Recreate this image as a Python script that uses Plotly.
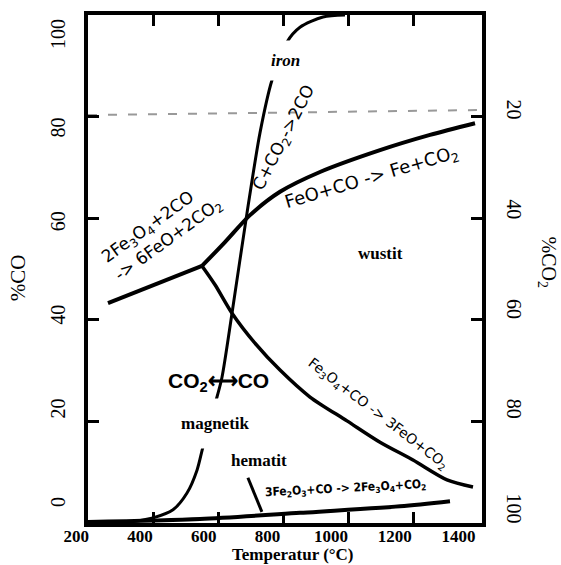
import plotly.graph_objects as go

# ---------------- data (temperature in °C, gas composition in %CO) ----------------
# FeO + CO -> Fe + CO2 boundary (from triple point up to the right)
feo_fe_T = [550.8, 621.5, 698.5, 790.8, 913.8, 1098.5, 1252.3, 1390.8]
feo_fe_CO = [50.6, 55.3, 60.6, 65.2, 69.1, 73.4, 76.4, 78.7]

# Fe3O4 -> Fe boundary (low temperature branch, left of triple point)
mag_fe_T = [261.5, 550.8]
mag_fe_CO = [43.3, 50.6]

# Fe3O4 + CO -> 3FeO + CO2 boundary
mag_wus_T = [550.8, 590.8, 643.1, 713.8, 790.8, 883.1, 996.9, 1098.5, 1200.0, 1304.6, 1384.6]
mag_wus_CO = [50.6, 46.9, 41.3, 35.4, 30.1, 24.8, 20.1, 15.9, 12.4, 8.5, 7.1]

# Boudouard equilibrium C + CO2 -> 2CO
boud_T = [329, 400, 461.5, 504.6, 535.4, 553.8, 596.9, 612.3, 643.1, 689.2, 729.2, 766.2, 812.3, 852.3, 923.0, 990.8]
boud_CO = [0.2, 1.0, 2.6, 5.9, 10.4, 15.0, 24.8, 28.7, 41.3, 61.0, 76.8, 87.2, 94.7, 97.6, 99.6, 100.0]

# 3Fe2O3 + CO -> 2Fe3O4 + CO2 boundary
hem_T = [200, 544.6, 852.3, 1160.0, 1313.8]
hem_CO = [0.2, 0.8, 2.0, 3.3, 4.3]

# short remnant segment near "hematit"
seg_T = [692, 735]
seg_CO = [8.9, 2.2]

# dashed reference line
dash_T = [200, 1412]
dash_CO = [80.3, 81.3]

# axis ticks / labels
x_tick_marks = [400, 600, 800, 1000, 1200]
x_tick_labels = [200, 400, 600, 800, 1000, 1200, 1400]
y_tick_marks = [20, 40, 60, 80]
y_left_labels = [0, 20, 40, 60, 80, 100]
y_right_labels = [20, 40, 60, 80, 100]

T_RANGE = [200, 1412.3]
CO_RANGE = [0, 100]

fig = go.Figure()


def add_line(x, y, width=4.0, color="black", dash=None, shape="spline"):
    fig.add_trace(go.Scatter(x=x, y=y, mode="lines",
                             line=dict(color=color, width=width, dash=dash, shape=shape, smoothing=0.8),
                             hoverinfo="skip", showlegend=False))


add_line(dash_T, dash_CO, width=2, color="#999999", dash="9px,11px", shape="linear")
add_line(hem_T, hem_CO, width=4)
add_line(seg_T, seg_CO, width=3, shape="linear")
add_line(mag_fe_T, mag_fe_CO, width=4, shape="linear")
add_line(feo_fe_T, feo_fe_CO, width=4)
add_line(mag_wus_T, mag_wus_CO, width=3.5)
add_line(boud_T, boud_CO, width=3)

# invisible helper traces so that the label-only axes are drawn
fig.add_trace(go.Scatter(x=[800], y=[50], xaxis="x2", yaxis="y", mode="markers",
                         marker=dict(opacity=0), hoverinfo="skip", showlegend=False))
fig.add_trace(go.Scatter(x=[800], y=[50], xaxis="x", yaxis="y3", mode="markers",
                         marker=dict(opacity=0), hoverinfo="skip", showlegend=False))
fig.add_trace(go.Scatter(x=[800], y=[50], xaxis="x", yaxis="y4", mode="markers",
                         marker=dict(opacity=0), hoverinfo="skip", showlegend=False))

serif = "Liberation Serif, Times New Roman, serif"
sans = "DejaVu Sans, sans-serif"

fig.update_layout(
    width=561, height=565,
    margin=dict(l=66, r=79, t=15, b=42),
    paper_bgcolor="white", plot_bgcolor="rgba(0,0,0,0)",
    xaxis=dict(domain=[22 / 416, 1], range=T_RANGE, showgrid=False, zeroline=False,
               showline=True, linewidth=4, linecolor="black", mirror="ticks",
               ticks="inside", ticklen=11, tickwidth=3, tickcolor="black",
               tickvals=x_tick_marks, showticklabels=False),
    xaxis2=dict(domain=[0, 1], range=[167.5, 1474], anchor="free", position=0,
                showgrid=False, zeroline=False, showline=False, ticks="",
                tickvals=x_tick_labels, ticktext=[str(v) for v in x_tick_labels],
                ticklabelstandoff=1,
                tickfont=dict(family=serif, size=17, color="black", weight="bold")),
    yaxis=dict(domain=[0, 1], range=CO_RANGE, showgrid=False, zeroline=False,
               showline=True, linewidth=4, linecolor="black", mirror="ticks",
               ticks="inside", ticklen=11, tickwidth=3, tickcolor="black",
               tickvals=y_tick_marks, showticklabels=False),
    yaxis3=dict(overlaying="y", side="left", anchor="x", range=[-3.85, 104.7],
                showgrid=False, zeroline=False, showline=False, ticks="",
                tickvals=y_left_labels, ticktext=[str(v) for v in y_left_labels],
                tickangle=-90, ticklabelstandoff=18,
                tickfont=dict(family=serif, size=20, color="black")),
    yaxis4=dict(overlaying="y", side="right", anchor="x", range=[102.3, 0.48],
                showgrid=False, zeroline=False, showline=False, ticks="",
                tickvals=y_right_labels, ticktext=[str(v) for v in y_right_labels],
                tickangle=90, ticklabelstandoff=20,
                tickfont=dict(family=serif, size=20, color="black")),
)

ann = []
# axis titles
ann.append(dict(xref="paper", yref="paper", x=-0.115, y=0.482, xanchor="center", yanchor="middle",
                text="%CO", textangle=-90,
                showarrow=False, font=dict(family=serif, size=21, color="black")))
ann.append(dict(xref="paper", yref="paper", x=1.157, y=0.514, xanchor="center", yanchor="middle",
                text="%CO<sub>2</sub>", textangle=90,
                showarrow=False, font=dict(family=serif, size=20, color="black")))
ann.append(dict(xref="paper", yref="paper", x=0.546, y=-0.062, xanchor="center", yanchor="middle",
                text="Temperatur (°C)",
                showarrow=False, font=dict(family=serif, size=17, color="black", weight="bold")))

# reaction labels
ann.append(dict(x=427.7, y=57.3, text="2Fe<sub>3</sub>O<sub>4</sub>+2CO<br>-> 6FeO+2CO<sub>2</sub>",
                textangle=-36, align="left", showarrow=False,
                font=dict(family=sans, size=17, color="black")))
ann.append(dict(x=806, y=75.8, text="C+CO<sub>2</sub>->2CO", textangle=-63, showarrow=False,
                font=dict(family=sans, size=17, color="black")))
ann.append(dict(x=1073.8, y=67.9, text="FeO+CO -> Fe+CO<sub>2</sub>", textangle=-16.5, showarrow=False,
                font=dict(family=sans, size=18, color="black")))
ann.append(dict(x=1092.3, y=21.5, text="Fe<sub>3</sub>O<sub>4</sub>+CO -> 3FeO+CO<sub>2</sub>",
                textangle=37.5, showarrow=False, font=dict(family=sans, size=14, color="black")))
ann.append(dict(x=990.8, y=6.6, text="3Fe<sub>2</sub>O<sub>3</sub>+CO -> 2Fe<sub>3</sub>O<sub>4</sub>+CO<sub>2</sub>",
                textangle=-3, showarrow=False,
                font=dict(family="Liberation Sans Narrow, DejaVu Sans Condensed, Arial Narrow, sans-serif",
                          size=12, color="black", weight="bold")))
ann.append(dict(x=600, y=27.8, text="CO<sub>2</sub>⟷CO", showarrow=False,
                font=dict(family="Liberation Sans, Arial, sans-serif", size=21, color="black", weight="bold")))

# phase labels (white backgrounds hide the lines behind them)
ann.append(dict(x=809, y=91.1, text="<i>iron</i>", showarrow=False, bgcolor="white", borderpad=10,
                font=dict(family=serif, size=17, color="black", weight="bold")))
ann.append(dict(x=1098.5, y=53.0, text="wustit", showarrow=False, bgcolor="white", borderpad=12,
                font=dict(family=serif, size=17, color="black", weight="bold")))
ann.append(dict(x=590.8, y=19.5, text="magnetik", showarrow=False, bgcolor="white", borderpad=15,
                font=dict(family=serif, size=17, color="black", weight="bold")))
ann.append(dict(x=726, y=12.4, text="hematit", showarrow=False,
                font=dict(family=serif, size=17, color="black", weight="bold")))

fig.update_layout(annotations=ann)

fig.write_html("out.html")
